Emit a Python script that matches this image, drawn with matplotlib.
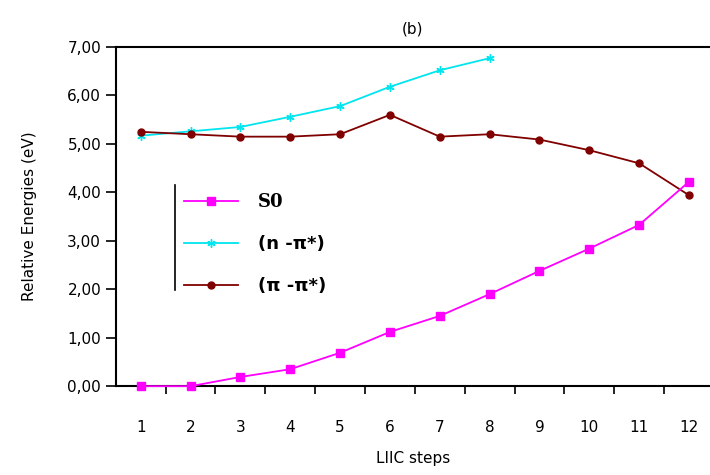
import numpy as np
import matplotlib.pyplot as plt
from matplotlib.ticker import FuncFormatter, FixedLocator

# data
steps = np.arange(1, 13)
s0 = [0.00, 0.00, 0.19, 0.35, 0.69, 1.12, 1.45, 1.90, 2.38, 2.84, 3.33, 4.22]
n_pi = [5.17, 5.26, 5.35, 5.56, 5.78, 6.18, 6.52, 6.77]
pi_pi = [5.25, 5.20, 5.15, 5.15, 5.20, 5.60, 5.15, 5.20, 5.09, 4.87, 4.60, 3.94]

plt.rcParams['font.family'] = 'DejaVu Sans'

fig = plt.figure(figsize=(7.1, 4.75), dpi=100)
ax = fig.add_axes([0.163, 0.187, 0.837, 0.714])

ax.plot(steps, s0, color='#ff00ff', marker='s', ms=6, lw=1.3, label='S0',
        clip_on=False, zorder=3)
ax.plot(steps[:len(n_pi)], n_pi, color='#00e5ee', marker=(6, 2, 0), ms=6,
        mew=1.0, lw=1.3, label='(n -π*)')
ax.plot(steps, pi_pi, color='#800000', marker='o', ms=5, lw=1.3,
        label='(π -π*)')

ax.set_xlim(0.5, 12.42)
ax.set_ylim(0, 7)
ax.set_yticks(np.arange(0, 8, 1))
ax.yaxis.set_major_formatter(FuncFormatter(lambda v, p: f'{v:.2f}'.replace('.', ',')))
ax.set_xticks(steps)
ax.xaxis.set_minor_locator(FixedLocator(np.arange(1.5, 12.5, 1)))
ax.tick_params(axis='x', which='major', length=0, pad=24, labelsize=11)
ax.tick_params(axis='x', which='minor', length=6, width=1.2, direction='out')
ax.tick_params(axis='y', length=7, width=1.2, direction='out', labelsize=11)

ax.spines['right'].set_visible(False)
for s in ['left', 'bottom', 'top']:
    ax.spines[s].set_linewidth(1.5)

ax.set_ylabel('Relative Energies (eV)', fontsize=11, labelpad=22)
ax.set_xlabel('LIIC steps', fontsize=11, labelpad=12)
ax.set_title('(b)', fontsize=11, pad=10)

leg = ax.legend(loc='upper left', bbox_to_anchor=(0.103, 0.59), frameon=False,
                handlelength=3.0, handletextpad=1.1, labelspacing=1.32,
                borderaxespad=0, prop={'weight': 'bold', 'size': 13})
leg.get_texts()[0].set_fontfamily('DejaVu Serif')
ax.plot([0.10, 0.10], [0.283, 0.593], transform=ax.transAxes,
        color='black', lw=1.2, clip_on=False)

fig.savefig('out.png', dpi=100)
